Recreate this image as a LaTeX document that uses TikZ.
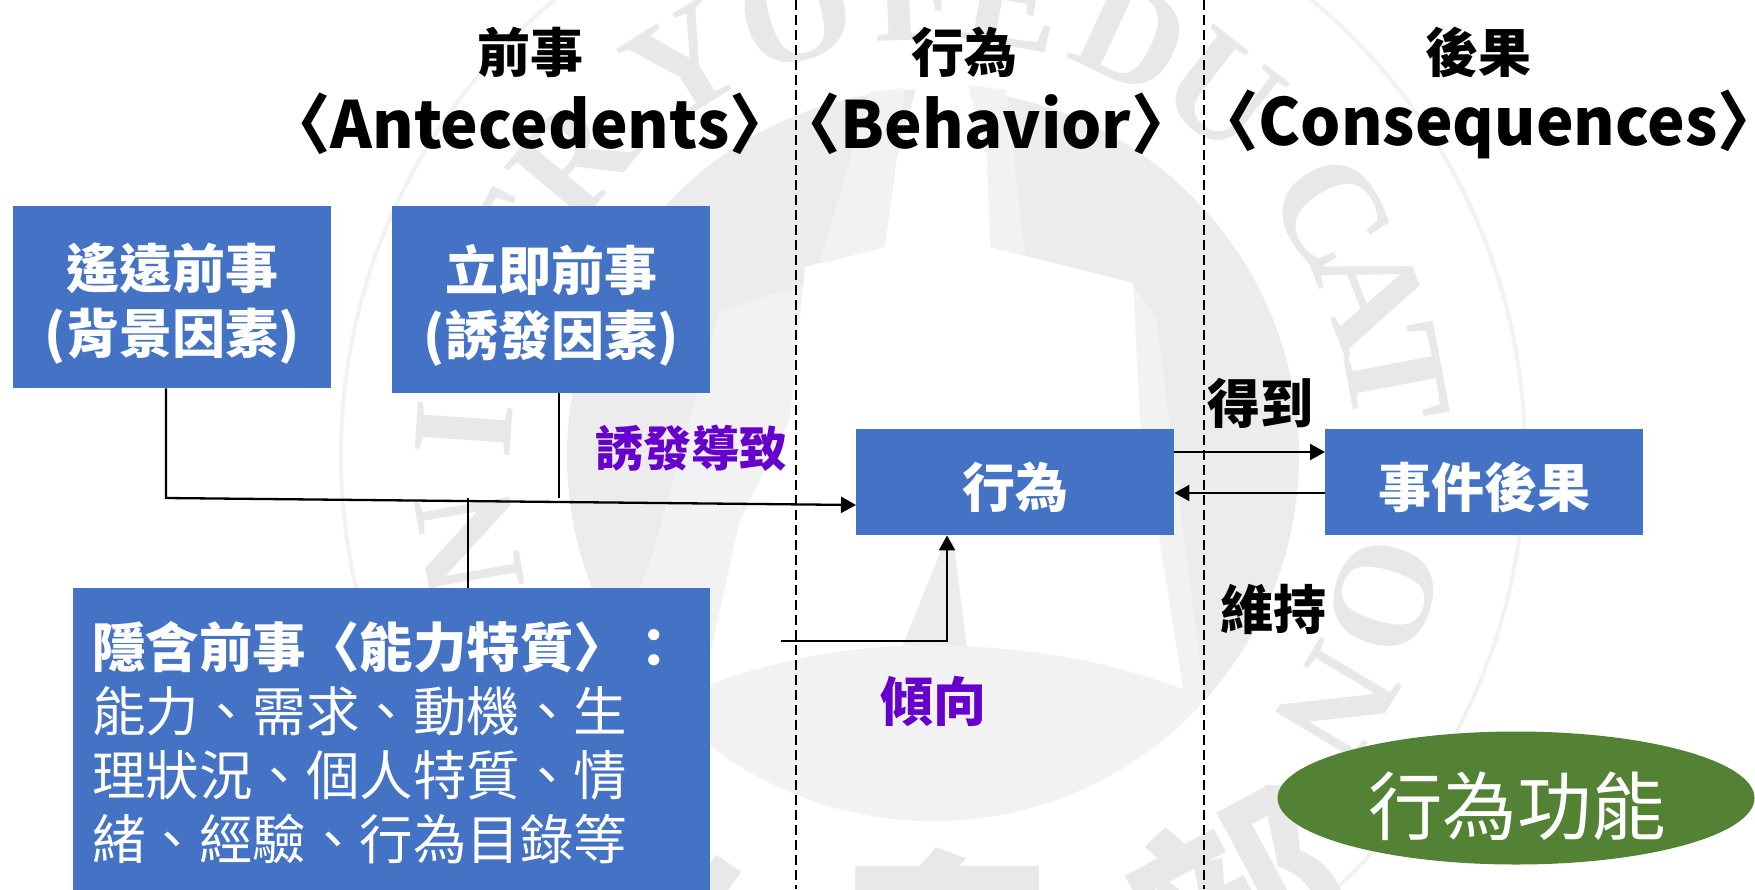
\documentclass[tikz,border=0pt]{standalone}
\usepackage{fontspec}
\usetikzlibrary{arrows.meta,shapes.geometric}
\setmainfont{Liberation Sans}
\newfontfamily\cjk{Noto Sans CJK TC}
\newfontfamily\cjkn[FakeStretch=0.975]{Noto Sans CJK TC}
\newfontfamily\wmserif{Liberation Serif}
\definecolor{boxblue}{HTML}{4472C4}
\definecolor{ellgreen}{HTML}{548235}
\definecolor{purp}{HTML}{6600CC}
\definecolor{wmdark}{HTML}{ECECEC}
\definecolor{wmlight}{HTML}{F2F2F2}
\definecolor{wmtext}{HTML}{E8E8E8}
\tikzset{
  x=1pt,y=-1pt,
  bluebox/.style={draw=none,fill=boxblue,inner sep=0pt,anchor=north west},
  head/.style={font=\cjk\bfseries\fontsize{53}{60}\selectfont,text=black,inner sep=0pt},
  headen/.style={font=\cjkn\bfseries\fontsize{65}{70}\selectfont,text=black,inner sep=0pt},
  boxtxt/.style={font=\cjk\bfseries\fontsize{53}{65}\selectfont,text=white,align=center,inner sep=0pt},
  lbl/.style={font=\cjk\bfseries\fontsize{53}{60}\selectfont,inner sep=0pt},
  divider/.style={black,line width=1.6pt,dash pattern=on 10pt off 5pt},
  conn/.style={black,line width=2.3pt},
  arr/.style={conn,-{Triangle[length=15pt,width=16pt]}},
  wm/.style={font=\wmserif\bfseries\fontsize{145}{145}\selectfont,text=wmtext,inner sep=0pt},
  wmcjk/.style={font=\cjk\bfseries\fontsize{205}{205}\selectfont,text=wmtext,inner sep=0pt},
}
\begin{document}
\begin{tikzpicture}
\useasboundingbox (0,0) rectangle (1755,889);
\begin{scope}
\clip (0,0) rectangle (1755,889);
% watermark seal
\draw[wmlight,line width=4pt] (933,455) circle[radius=592];
\fill[wmdark] (933,455) circle[radius=366];
\fill[wmlight] (905,88) -- (870,92) -- (820,262) -- (885,247) -- cycle;
\fill[wmlight] (968,85) -- (1006,90) -- (1025,255) -- (990,247) -- cycle;
\fill[wmlight] (719,311) -- (805,285) -- (1133,285) -- (1156,317) -- (1204,694) -- (602,690) -- (653,553) -- cycle;
\fill[white] (917,85) -- (968,85) -- (987,157) -- (990,247) -- (1133,283) -- (1140,420) -- (1185,700) -- (700,700) -- (740,520) -- (790,420) -- (805,267) -- (885,247) -- (897,157) -- cycle;
\fill[wmdark] (946,538) -- (903,645) -- (967,650) -- (954,543) -- cycle;
\begin{scope}
\clip (933,455) circle[radius=366];
\fill[wmlight] (712,684) .. controls (800,650) and (900,642) .. (959,646) .. controls (1060,650) and (1140,670) .. (1210,700) -- (1300,900) -- (600,900) -- cycle;
\end{scope}
\foreach \i/\ch/\a in {1/M/218,2/I/203,3/N/190,4/I/176,5/S/165,6/T/153,7/R/140,8/Y/122,9/O/107,10/F/92,11/E/80,12/D/65,13/U/52,14/C/32,15/A/21,16/T/10.7,17/I/-3,18/O/-16.6,19/N/-31}{
  \node[wm,rotate=\a-90] (wm\i) at ({933+470*cos(\a)},{462-470*sin(\a)}) {\ch};
}
\node[wmcjk,rotate=-25] (wmjiao) at (655,935) {教};
\node[wmcjk] (wmyu) at (948,948) {育};
\node[wmcjk,rotate=28] (wmbu) at (1240,900) {部};
\end{scope}
% dividers
\coordinate (d1t) at (796,0); \coordinate (d1b) at (796,889);
\coordinate (d2t) at (1204,0); \coordinate (d2b) at (1204,889);
\draw[divider] (d1t) -- (d1b);
\draw[divider] (d2t) -- (d2b);
% headings
\node[head] (h1) at (530,52) {前事};
\node[headen] (h1e) at (530,124) {〈Antecedents〉};
\node[head] (h2) at (964,52) {行為};
\node[headen] (h2e) at (986,124) {〈Behavior〉};
\node[head] (h3) at (1478,52) {後果};
\node[headen] (h3e) at (1488,124) {〈Consequences〉};
% boxes
\node[bluebox,minimum width=318pt,minimum height=182pt] (boxA) at (13,206) {};
\node[bluebox,minimum width=318pt,minimum height=187pt] (boxB) at (392,206) {};
\node[bluebox,minimum width=318pt,minimum height=106pt] (beh) at (856,429) {};
\node[bluebox,minimum width=318pt,minimum height=106pt] (evt) at (1325,429) {};
\node[bluebox,minimum width=637pt,minimum height=320pt] (boxH) at (73,588) {};
\node[ellipse,fill=ellgreen,inner sep=0pt,minimum width=477pt,minimum height=133pt] (ell) at (1516,798) {};
% box texts
\node[boxtxt] (tA) at (172,304) {遙遠前事\\(背景因素)};
\node[boxtxt] (tB) at (551,305) {立即前事\\(誘發因素)};
\node[boxtxt] (tBeh) at (1015,487) {行為};
\node[boxtxt] (tEvt) at (1484,487) {事件後果};
\node[font=\cjk\fontsize{53.5}{64}\selectfont,text=white,align=left,inner sep=0pt,anchor=west] (tH) at (92,743) {{\bfseries 隱含前事〈能力特質〉：}\\能力、需求、動機、生\\理狀況、個人特質、情\\緒、經驗、行為目錄等};
\node[font=\cjk\fontsize{74.5}{80}\selectfont,text=white,inner sep=0pt] (tE) at (1517,806) {行為功能};
% labels
\node[lbl,text=purp,font=\cjk\bfseries\fontsize{48}{54}\selectfont] (l1) at (691,448) {誘發導致};
\node[lbl,text=purp] (l2) at (933,701) {傾向};
\node[lbl,text=black] (l3) at (1260,403) {得到};
\node[lbl,text=black] (l4) at (1273,609) {維持};
% connectors
\coordinate (aBend) at (166,498);
\coordinate (behIn) at (856,505);
\coordinate (bEnd) at (559,498);
\coordinate (hEnd) at (468,498);
\coordinate (tStart) at (781,641);
\coordinate (tBend) at (947,641);
\draw[arr] (boxA.south -| aBend) -- (aBend) -- (behIn);
\draw[conn] (boxB.south -| bEnd) -- (bEnd);
\draw[conn] (boxH.north -| hEnd) -- (hEnd);
\draw[arr] (tStart) -- (tBend) -- (tBend |- beh.south);
\coordinate (r1) at (1174,452);
\coordinate (r2) at (1325,493);
\draw[arr] (r1 -| beh.east) -- (r1 -| evt.west);
\draw[arr] (r2 -| evt.west) -- (r2 -| beh.east);
\end{tikzpicture}
\end{document}
